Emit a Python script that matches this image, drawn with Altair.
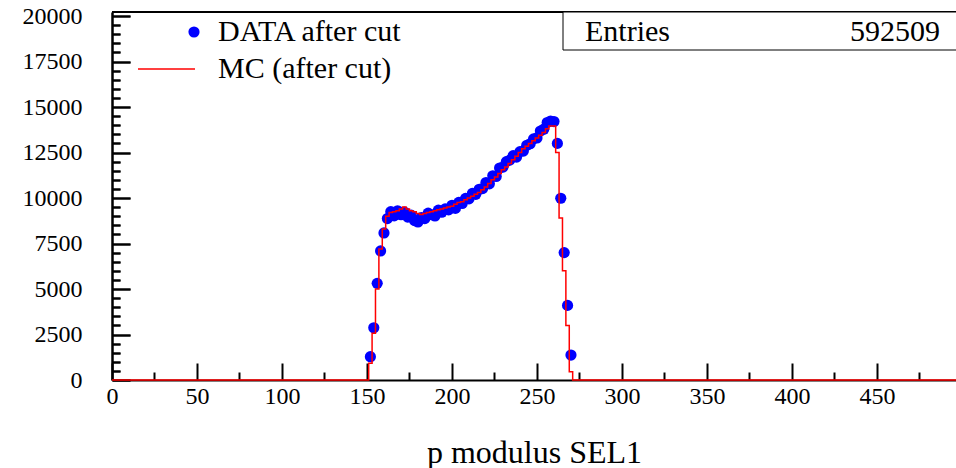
import altair as alt
import pandas as pd

# ---------------- data ----------------
bin_centers = list(range(152, 272, 2))
data_counts = [1280, 2870, 5310, 7090, 8080, 8870, 9250, 9020, 9300, 9080,
               9230, 8950, 9060, 8760, 8680, 8930, 8870, 9170, 9080, 9010,
               9330, 9220, 9400, 9350, 9600, 9430, 9760, 9700, 9980, 9950,
               10250, 10200, 10480, 10520, 10850, 10780, 11220, 11180, 11650, 11700,
               12000, 12080, 12330, 12250, 12550, 12580, 12900, 12980, 13250, 13300,
               13680, 13780, 14150, 14230, 14200, 13000, 9985, 7000, 4100, 1370]
mc_counts = [920, 2570, 5000, 7200, 8300, 9000, 9200, 9250, 9300, 9400,
             9500, 9400, 9300, 9250, 9150, 9100, 9150, 9200, 9250, 9300,
             9350, 9400, 9450, 9500, 9550, 9650, 9750, 9800, 9900, 10000,
             10100, 10200, 10300, 10450, 10600, 10800, 11000, 11150, 11350, 11550,
             11700, 11900, 12100, 12300, 12500, 12700, 12850, 13000, 13150, 13300,
             13450, 13600, 13800, 13950, 13950, 12500, 8900, 6000, 3000, 450]
bin_width = 2
x_max = 496.5
y_max = 20220
x_major_ticks = [0, 50, 100, 150, 200, 250, 300, 350, 400, 450]
x_minor_ticks = [25, 75, 125, 175, 225, 275, 325, 375, 425, 475]
y_major_ticks = [0, 2500, 5000, 7500, 10000, 12500, 15000, 17500, 20000]
y_minor_ticks = [v for v in range(0, 20001, 500) if v % 2500 != 0]
legend_labels = ["DATA after cut", "MC (after cut)"]
stats_label = "Entries"
stats_value = "592509"
x_title = "p modulus SEL1"

FONT = "'Liberation Serif', 'Times New Roman', Times, 'DejaVu Serif', serif"
W, H = 844, 368

# ---------------- tables ----------------
df_data = pd.DataFrame({"p": bin_centers, "n": data_counts})

step_x = [0] + [c - bin_width / 2 for c in bin_centers] + [bin_centers[-1] + bin_width / 2, x_max]
step_y = [0] + mc_counts + [0, 0]
df_mc = pd.DataFrame({"p": step_x, "n": step_y})

xs = alt.Scale(domain=[0, x_max], nice=False, zero=False)
ys = alt.Scale(domain=[0, y_max], nice=False)

one = pd.DataFrame({"a": [0]})

dots = alt.Chart(df_data).mark_circle(size=125, color="#0000ff", opacity=1).encode(
    x=alt.X("p:Q", scale=xs,
            axis=alt.Axis(orient="bottom", values=x_major_ticks, ticks=False, tickSize=0, grid=False,
                          domainColor="black", domainWidth=2,
                          labelFont=FONT, labelFontSize=24, labelColor="black",
                          labelPadding=4, labelFlush=False, labelOverlap=False,
                          format="d",
                          title=x_title, titleFont=FONT, titleFontSize=32,
                          titleFontWeight="normal", titleColor="black",
                          titleBaseline="middle", titleY=72)),
    y=alt.Y("n:Q", scale=ys,
            axis=alt.Axis(orient="left", values=y_major_ticks, ticks=False, tickSize=0, grid=False,
                          domainColor="black", domainWidth=2.5,
                          labelFont=FONT, labelFontSize=24, labelColor="black",
                          labelPadding=30, labelFlush=False, labelOverlap=False,
                          format="d", title=None)),
)

mc = alt.Chart(df_mc).mark_line(interpolate="step-after", color="#ff0000", strokeWidth=1.5).encode(
    x=alt.X("p:Q", scale=xs, axis=None),
    y=alt.Y("n:Q", scale=ys, axis=None),
)


def tick_axis(orient, offset, values, size):
    return alt.Axis(orient=orient, offset=offset, values=values, ticks=True,
                    tickSize=size, tickWidth=2, tickColor="black",
                    labels=False, domain=False, grid=False, title=None)


# inward tick marks: x ticks from a top axis moved to the bottom edge,
# y ticks from a left axis shifted right by its own tick length
ticks_major = alt.Chart(df_data).mark_point(opacity=0).encode(
    x=alt.X("p:Q", scale=xs, axis=tick_axis("top", -H, x_major_ticks, 17)),
    y=alt.Y("n:Q", scale=ys, axis=tick_axis("left", -18, y_major_ticks, 18)),
)
ticks_minor = alt.Chart(df_data).mark_point(opacity=0).encode(
    x=alt.X("p:Q", scale=xs, axis=tick_axis("top", -H, x_minor_ticks, 8)),
    y=alt.Y("n:Q", scale=ys, axis=tick_axis("left", -8, y_minor_ticks, 8)),
)
# same y ticks drawn a second way (right axis moved onto the left edge)
ticks_major_r = alt.Chart(df_data).mark_point(opacity=0).encode(
    x=alt.X("p:Q", scale=xs, axis=None),
    y=alt.Y("n:Q", scale=ys, axis=tick_axis("right", -W, y_major_ticks, 18)),
)
ticks_minor_r = alt.Chart(df_data).mark_point(opacity=0).encode(
    x=alt.X("p:Q", scale=xs, axis=None),
    y=alt.Y("n:Q", scale=ys, axis=tick_axis("right", -W, y_minor_ticks, 8)),
)

top_border = alt.Chart(one).mark_rule(color="black", strokeWidth=2).encode(
    x=alt.value(0), x2=alt.value(W + 10), y=alt.value(0))

stats_box = alt.Chart(one).mark_rect(fill="white", stroke="black", strokeWidth=1).encode(
    x=alt.value(451), x2=alt.value(W + 20), y=alt.value(0), y2=alt.value(38))
stats_l = alt.Chart(pd.DataFrame({"s": [stats_label]})).mark_text(
    font=FONT, fontSize=30, align="left", baseline="middle", color="black").encode(
    x=alt.value(473), y=alt.value(20), text="s:N")
stats_r = alt.Chart(pd.DataFrame({"s": [stats_value]})).mark_text(
    font=FONT, fontSize=30, align="right", baseline="middle", color="black").encode(
    x=alt.value(828), y=alt.value(20), text="s:N")

leg_dot = alt.Chart(one).mark_circle(size=125, color="#0000ff", opacity=1).encode(
    x=alt.value(82), y=alt.value(20))
leg_line = alt.Chart(one).mark_rule(color="#ff0000", strokeWidth=1.5).encode(
    x=alt.value(26), x2=alt.value(83), y=alt.value(57))
leg_text1 = alt.Chart(pd.DataFrame({"s": [legend_labels[0]]})).mark_text(
    font=FONT, fontSize=30, align="left", baseline="middle", color="black").encode(
    x=alt.value(106), y=alt.value(20), text="s:N")
leg_text2 = alt.Chart(pd.DataFrame({"s": [legend_labels[1]]})).mark_text(
    font=FONT, fontSize=30, align="left", baseline="middle", color="black").encode(
    x=alt.value(106), y=alt.value(57), text="s:N")

chart = alt.layer(
    dots, mc, ticks_major, ticks_minor, ticks_major_r, ticks_minor_r, top_border,
    stats_box, stats_l, stats_r, leg_dot, leg_line, leg_text1, leg_text2
).resolve_axis(x="independent", y="independent").properties(
    width=W, height=H,
    padding={"left": 112, "top": 12, "right": 0, "bottom": 88},
    autosize="none",
).configure_view(stroke=None).configure(background="white")

chart.save("out.html", embed_options={"renderer": "svg", "actions": False})
